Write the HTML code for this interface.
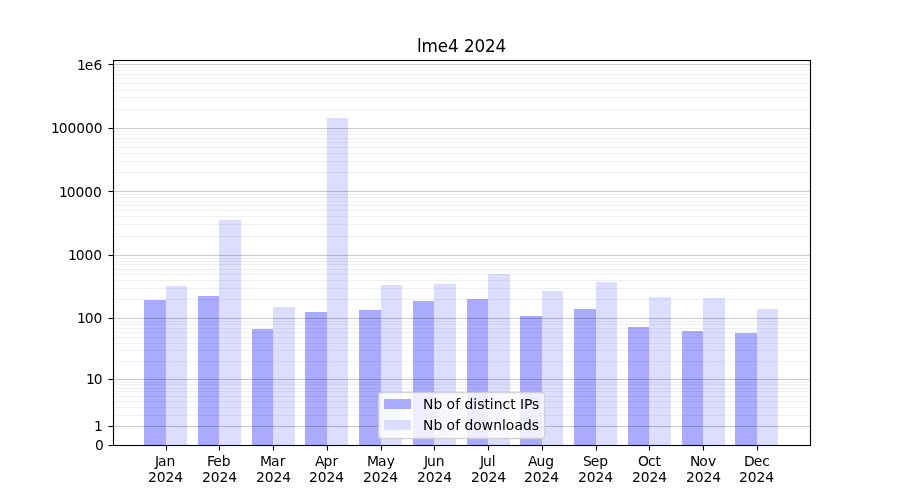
<!DOCTYPE html>
<html lang="en">
<head>
<meta charset="utf-8">
<title>lme4 2024</title>
<style>
html,body{margin:0;padding:0;background:#ffffff;}
body{width:900px;height:500px;overflow:hidden;}
svg{display:block;will-change:transform;}
text{font-family:"DejaVu Sans","Liberation Sans",sans-serif;font-size:13.889px;fill:#000000;}
.title{font-size:16.8px;}
.ips{fill:#aaaaff;}
.dl{fill:#ddddff;}
.gM{stroke:#000;stroke-opacity:0.2;stroke-width:1.111;fill:none;}
.gm{stroke:#000;stroke-opacity:0.06;stroke-width:1.111;fill:none;}
.ax{stroke:#000;stroke-width:1.111;fill:none;}
</style>
</head>
<body>
<svg width="900" height="500" viewBox="0 0 900 500">
<rect x="0" y="0" width="900" height="500" fill="#ffffff"/>

<g class="ips">
<rect x="144" y="300" width="22" height="145"/>
<rect x="198" y="296" width="21" height="149"/>
<rect x="252" y="329" width="21" height="116"/>
<rect x="305" y="312" width="22" height="133"/>
<rect x="359" y="310" width="22" height="135"/>
<rect x="413" y="301" width="21" height="144"/>
<rect x="467" y="299" width="21" height="146"/>
<rect x="520" y="316" width="22" height="129"/>
<rect x="574" y="309" width="22" height="136"/>
<rect x="628" y="327" width="21" height="118"/>
<rect x="682" y="331" width="21" height="114"/>
<rect x="735" y="333" width="22" height="112"/>
</g>
<g class="dl">
<rect x="166" y="286" width="21" height="159"/>
<rect x="219" y="220" width="22" height="225"/>
<rect x="273" y="307" width="22" height="138"/>
<rect x="327" y="118" width="21" height="327"/>
<rect x="381" y="285" width="21" height="160"/>
<rect x="434" y="284" width="22" height="161"/>
<rect x="488" y="274" width="22" height="171"/>
<rect x="542" y="291" width="21" height="154"/>
<rect x="596" y="282" width="21" height="163"/>
<rect x="649" y="297" width="22" height="148"/>
<rect x="703" y="298" width="22" height="147"/>
<rect x="757" y="309" width="21" height="136"/>
</g>
<path class="gm" d="M112.5 415.5H810M112.5 407.5H810M112.5 401.5H810M112.5 396.5H810M112.5 391.5H810M112.5 388.5H810M112.5 384.5H810M112.5 382.5H810M112.5 361.5H810M112.5 350.5H810M112.5 343.5H810M112.5 337.5H810M112.5 332.5H810M112.5 328.5H810M112.5 324.5H810M112.5 321.5H810M112.5 299.5H810M112.5 288.5H810M112.5 280.5H810M112.5 274.5H810M112.5 269.5H810M112.5 264.5H810M112.5 261.5H810M112.5 258.5H810M112.5 236.5H810M112.5 224.5H810M112.5 216.5H810M112.5 210.5H810M112.5 205.5H810M112.5 201.5H810M112.5 197.5H810M112.5 194.5H810M112.5 172.5H810M112.5 161.5H810M112.5 153.5H810M112.5 147.5H810M112.5 142.5H810M112.5 138.5H810M112.5 134.5H810M112.5 131.5H810M112.5 109.5H810M112.5 97.5H810M112.5 90.5H810M112.5 83.5H810M112.5 78.5H810M112.5 74.5H810M112.5 70.5H810M112.5 67.5H810"/>
<path class="gM" d="M112.5 445.5H810M112.5 426.5H810M112.5 379.5H810M112.5 318.5H810M112.5 255.5H810M112.5 191.5H810M112.5 128.5H810M112.5 64.5H810"/>
<path class="ax" d="M108.5 445.5H113M108.5 426.5H113M108.5 379.5H113M108.5 318.5H113M108.5 255.5H113M108.5 191.5H113M108.5 128.5H113M108.5 64.5H113M166.5 445.5V450.5M219.5 445.5V450.5M273.5 445.5V450.5M327.5 445.5V450.5M381.5 445.5V450.5M434.5 445.5V450.5M488.5 445.5V450.5M542.5 445.5V450.5M596.5 445.5V450.5M649.5 445.5V450.5M703.5 445.5V450.5M757.5 445.5V450.5"/>
<path class="ax" stroke-linecap="square" d="M113.5 60.5V445.5M810.5 60.5V445.5M113.5 445.5H810.5M113.5 60.5H810.5"/>
<path fill="#000" fill-opacity="0.055" d="M113 59H811V60H113ZM114 61H810V62H114ZM114 444H810V445H114ZM108 446H811V447H108ZM108 425H113V426H108ZM108 427H113V428H108ZM108 378H113V379H108ZM108 380H113V381H108ZM108 317H113V318H108ZM108 319H113V320H108ZM108 254H113V255H108ZM108 256H113V257H108ZM108 190H113V191H108ZM108 192H113V193H108ZM108 127H113V128H108ZM108 129H113V130H108ZM108 63H113V64H108ZM108 65H113V66H108Z"/>
<path fill="#000" fill-opacity="0.011" d="M114 425H810V426H114ZM114 427H810V428H114ZM114 378H810V379H114ZM114 380H810V381H114ZM114 317H810V318H114ZM114 319H810V320H114ZM114 254H810V255H114ZM114 256H810V257H114ZM114 190H810V191H114ZM114 192H810V193H114ZM114 127H810V128H114ZM114 129H810V130H114ZM114 63H810V64H114ZM114 65H810V66H114Z"/>
<g>
<text x="94.875" y="450">0</text>
<text x="93.938" y="431">1</text>
<text x="85.938 93.688" y="384">10</text>
<text x="76.938 84.812 93.562" y="323">100</text>
<text x="67.938 75.812 84.562 93.312" y="260">1000</text>
<text x="58.938 66.812 75.562 84.312 93.062" y="197">10000</text>
<text x="50.938 58.812 67.562 76.312 85.062 93.812" y="133">100000</text>
<text x="76.938 84.688 93.562" y="70">1e6</text>
</g>
<g>
<text x="154.938 157.938 166.562" y="466">Jan</text><text x="147.875 156.625 165.375 174.125" y="482">2024</text>
<text x="206.875 213.125 221.625" y="466">Feb</text><text x="201.875 210.625 219.375 228.125" y="482">2024</text>
<text x="259.875 270.875 279.625" y="466">Mar</text><text x="255.875 264.625 273.375 282.125" y="482">2024</text>
<text x="314.891 323.516 332.391" y="466">Apr</text><text x="308.875 317.625 326.375 335.125" y="482">2024</text>
<text x="366.875 377.875 386.75" y="466">May</text><text x="362.875 371.625 380.375 389.125" y="482">2024</text>
<text x="423.938 426.938 435.688" y="466">Jun</text><text x="416.875 425.625 434.375 443.125" y="482">2024</text>
<text x="479.938 482.938 491.688" y="466">Jul</text><text x="470.875 479.625 488.375 497.125" y="482">2024</text>
<text x="527.891 536.391 545.141" y="466">Aug</text><text x="523.875 532.625 541.375 550.125" y="482">2024</text>
<text x="582.875 590.625 599.125" y="466">Sep</text><text x="577.875 586.625 595.375 604.125" y="482">2024</text>
<text x="637.875 648 655.375" y="466">Oct</text><text x="631.875 640.625 649.375 658.125" y="482">2024</text>
<text x="689.875 699.125 708" y="466">Nov</text><text x="685.875 694.625 703.375 712.125" y="482">2024</text>
<text x="743.875 753.625 762.125" y="466">Dec</text><text x="738.875 747.625 756.375 765.125" y="482">2024</text>
</g>
<text class="title" x="416.875 421.5 437.75 448 458.5 464 474.375 484.875 495.5" y="52">lme4 2024</text>
<rect x="378.5" y="392.5" width="166" height="46" rx="2.78" ry="2.78" fill="#ffffff" fill-opacity="0.8" stroke="#cccccc" stroke-opacity="0.8" stroke-width="1.389"/>
<rect class="ips" x="384" y="399" width="27" height="10"/>
<rect class="dl" x="384" y="420" width="27" height="10"/>
<text x="423 433.375 442.25 446.375 455.125 460.125 464.5 473.125 477.25 484.375 489.625 493.75 502.5 510.125 515.625 520 524 531.875" y="409">Nb of distinct IPs</text>
<text x="423 433.375 442.25 446.375 455.125 460.125 464.5 473.125 481.625 493.25 502 505.625 514.375 523 531.625" y="430">Nb of downloads</text>
</svg>
</body>
</html>
